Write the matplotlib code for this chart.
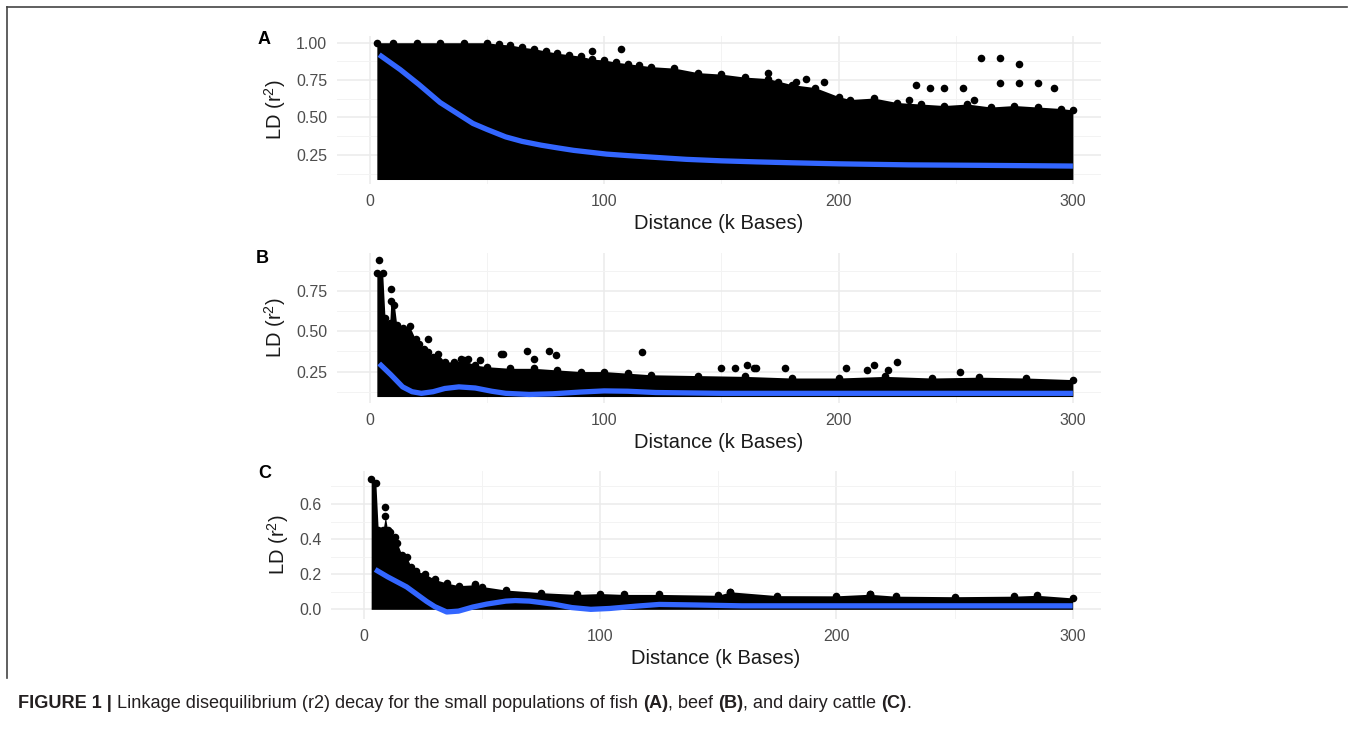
import matplotlib.pyplot as plt
from matplotlib.lines import Line2D
from matplotlib.ticker import FormatStrFormatter

plt.rcParams['font.family'] = ['Liberation Sans', 'DejaVu Sans']
plt.rcParams['mathtext.default'] = 'regular'

W, H = 1355, 736
BLUE = '#3366FF'

dist_ticks = [0, 100, 200, 300]
dist_minor = [50, 150, 250]

# fish (A): outline of the point cloud, stray points, smoothed fit
fish_env_x = [3, 10, 20, 30, 40, 50, 55, 60, 65, 70, 75, 80, 85, 90, 95, 100, 105, 110,
              115, 120, 130, 140, 150, 160, 170, 180, 190, 200, 205, 215, 225, 235, 245,
              255, 265, 275, 285, 295, 300]
fish_env_top = [1.0, 1.0, 1.0, 1.0, 1.0, 1.0, 0.99, 0.985, 0.97, 0.96, 0.945, 0.93, 0.92,
                0.91, 0.89, 0.885, 0.87, 0.86, 0.85, 0.84, 0.83, 0.80, 0.79, 0.77, 0.76,
                0.72, 0.70, 0.64, 0.62, 0.63, 0.60, 0.59, 0.58, 0.59, 0.57, 0.58, 0.57,
                0.56, 0.55]
fish_floor = 0.085
fish_out_x = [95, 107, 170, 174, 182, 186, 194, 230, 233, 239, 245, 253, 258, 261, 269,
              269, 277, 277, 285, 292]
fish_out_y = [0.945, 0.96, 0.80, 0.74, 0.735, 0.755, 0.735, 0.615, 0.715, 0.70, 0.70,
              0.70, 0.615, 0.90, 0.90, 0.73, 0.86, 0.73, 0.73, 0.70]
fish_fit_x = [4, 13, 21, 30, 38, 44, 50, 58, 65, 73, 80, 87, 101, 110, 120, 135, 150,
              165, 180, 200, 230, 260, 300]
fish_fit_y = [0.92, 0.82, 0.72, 0.60, 0.52, 0.46, 0.42, 0.37, 0.34, 0.315, 0.297, 0.28,
              0.255, 0.245, 0.235, 0.22, 0.21, 0.203, 0.197, 0.19, 0.183, 0.18, 0.175]

# beef (B)
beef_env_x = [3, 5.5, 6.5, 8.5, 9, 10.5, 11.5, 14, 17, 19.5, 21, 23, 25, 27, 29, 32, 36,
              40, 45, 50, 60, 70, 80, 90, 100, 110, 120, 140, 160, 180, 200, 220, 240,
              260, 280, 300]
beef_env_top = [0.86, 0.86, 0.58, 0.55, 0.69, 0.66, 0.54, 0.52, 0.53, 0.45, 0.42, 0.39,
                0.37, 0.34, 0.36, 0.31, 0.31, 0.32, 0.29, 0.28, 0.27, 0.27, 0.26, 0.25,
                0.25, 0.24, 0.23, 0.225, 0.22, 0.21, 0.21, 0.22, 0.21, 0.215, 0.21, 0.20]
beef_floor = 0.095
beef_out_x = [4, 9, 25, 39, 42, 47, 56, 57, 67, 70, 76.5, 79.5, 116, 150, 156, 161, 164,
              165, 177, 203, 212, 215, 221, 225, 252]
beef_out_y = [0.94, 0.76, 0.45, 0.33, 0.33, 0.32, 0.36, 0.36, 0.38, 0.33, 0.38, 0.35,
              0.37, 0.275, 0.275, 0.29, 0.27, 0.27, 0.27, 0.27, 0.26, 0.29, 0.26, 0.31,
              0.25]
beef_fit_x = [4, 9, 14, 18, 22, 27, 32, 38, 45, 52, 58, 68, 78, 90, 100, 110, 122, 150,
              200, 250, 300]
beef_fit_y = [0.30, 0.23, 0.155, 0.125, 0.115, 0.125, 0.145, 0.155, 0.148, 0.128, 0.115,
              0.108, 0.112, 0.123, 0.13, 0.128, 0.12, 0.115, 0.115, 0.115, 0.115]

# dairy cattle (C)
dairy_env_x = [3, 5, 6, 8, 9, 10, 11, 13, 14, 16, 18, 20, 22, 26, 30, 35, 40, 47, 50, 60,
               75, 90, 100, 110, 125, 150, 155, 175, 200, 214, 225, 250, 275, 285, 300]
dairy_env_top = [0.74, 0.72, 0.45, 0.45, 0.53, 0.45, 0.44, 0.41, 0.38, 0.31, 0.30, 0.24,
                 0.22, 0.20, 0.17, 0.15, 0.135, 0.14, 0.13, 0.11, 0.095, 0.085, 0.09,
                 0.085, 0.085, 0.08, 0.10, 0.078, 0.077, 0.086, 0.075, 0.072, 0.075, 0.08,
                 0.065]
dairy_floor = 0.0
dairy_out_x = [9, 47, 155, 214]
dairy_out_y = [0.585, 0.145, 0.10, 0.09]
dairy_fit_x = [4.7, 10, 18, 26.5, 30, 35, 40, 46, 52, 60, 64, 70, 80, 88, 96, 104, 115,
               125, 140, 160, 200, 250, 300]
dairy_fit_y = [0.227, 0.185, 0.128, 0.045, 0.015, -0.015, -0.01, 0.013, 0.03, 0.047, 0.05,
               0.047, 0.03, 0.01, 0.0, 0.005, 0.018, 0.028, 0.025, 0.02, 0.02, 0.02, 0.02]

fig = plt.figure(figsize=(W / 100, H / 100), dpi=100)


def px_axes(left, right, top, bottom):
    return fig.add_axes([left / W, 1 - bottom / H, (right - left) / W, (bottom - top) / H])


def draw_panel(ax, env_x, env_top, floor, out_x, out_y, fit_x, fit_y,
               ylim, yticks, yminor, fmt):
    ax.set_xlim(-14, 312)
    ax.set_ylim(*ylim)
    ax.set_xticks(dist_ticks)
    ax.set_xticks(dist_minor, minor=True)
    ax.set_yticks(yticks)
    ax.set_yticks(yminor, minor=True)
    ax.yaxis.set_major_formatter(FormatStrFormatter(fmt))
    ax.grid(which='major', color='#EBEBEB', lw=1.1, zorder=0)
    ax.grid(which='minor', color='#F3F3F3', lw=0.7, zorder=0)
    ax.set_axisbelow(True)
    for s in ax.spines.values():
        s.set_visible(False)
    ax.tick_params(which='both', length=0, labelsize=11.5, labelcolor='#4D4D4D', pad=7)

    # dense cloud of points
    ax.fill_between(env_x, floor, env_top, color='black', lw=0, zorder=2)
    ax.scatter(env_x, env_top, s=30, color='black', lw=0, zorder=2)
    ax.scatter(out_x, out_y, s=30, color='black', lw=0, zorder=2)

    # smoothed fit
    ax.plot(fit_x, fit_y, color=BLUE, lw=3.8, solid_capstyle='butt', zorder=3)

    ax.set_xlabel('Distance (k Bases)', fontsize=14.5, color='#1A1A1A', labelpad=4)
    ax.set_ylabel('LD (r$^{2}$)', fontsize=14.5, color='#1A1A1A', labelpad=6)


ax_a = px_axes(337, 1101, 36, 184)
draw_panel(ax_a, fish_env_x, fish_env_top, fish_floor, fish_out_x, fish_out_y,
           fish_fit_x, fish_fit_y, (0.055, 1.045), [0.25, 0.5, 0.75, 1.0],
           [0.125, 0.375, 0.625, 0.875], '%.2f')

ax_b = px_axes(337, 1101, 253, 403)
draw_panel(ax_b, beef_env_x, beef_env_top, beef_floor, beef_out_x, beef_out_y,
           beef_fit_x, beef_fit_y, (0.055, 0.985), [0.25, 0.5, 0.75],
           [0.125, 0.375, 0.625, 0.875], '%.2f')

ax_c = px_axes(331, 1101, 471, 619)
draw_panel(ax_c, dairy_env_x, dairy_env_top, dairy_floor, dairy_out_x, dairy_out_y,
           dairy_fit_x, dairy_fit_y, (-0.055, 0.788), [0.0, 0.2, 0.4, 0.6],
           [0.1, 0.3, 0.5, 0.7], '%.1f')

# panel letters
for letter, lx, ly in [('A', 258, 40), ('B', 256, 258), ('C', 258, 473)]:
    fig.text(lx / W, 1 - ly / H, letter, fontsize=13, fontweight='bold',
             ha='left', va='center')

# frame lines
fig.add_artist(Line2D([7 / W, 1347 / W], [1 - 7 / H, 1 - 7 / H], color='#444444', lw=1.2,
                      transform=fig.transFigure))
fig.add_artist(Line2D([7 / W, 7 / W], [1 - 7 / H, 1 - 678 / H], color='#444444', lw=1.2,
                      transform=fig.transFigure))

# caption, with bold pieces laid out one after another
caption = [('FIGURE 1 | ', 'bold'),
           ('Linkage disequilibrium (r2) decay for the small populations of fish ', 'normal'),
           ('(A)', 'bold'), (', beef ', 'normal'), ('(B)', 'bold'),
           (', and dairy cattle ', 'normal'), ('(C)', 'bold'), ('.', 'normal')]
renderer = fig.canvas.get_renderer()
x = 18 / W
for text, weight in caption:
    t = fig.text(x, 1 - 703 / H, text, fontsize=13.1, fontweight=weight,
                 color='#231F20', ha='left', va='center')
    x += t.get_window_extent(renderer).width / W

fig.savefig('out.png', dpi=100)
